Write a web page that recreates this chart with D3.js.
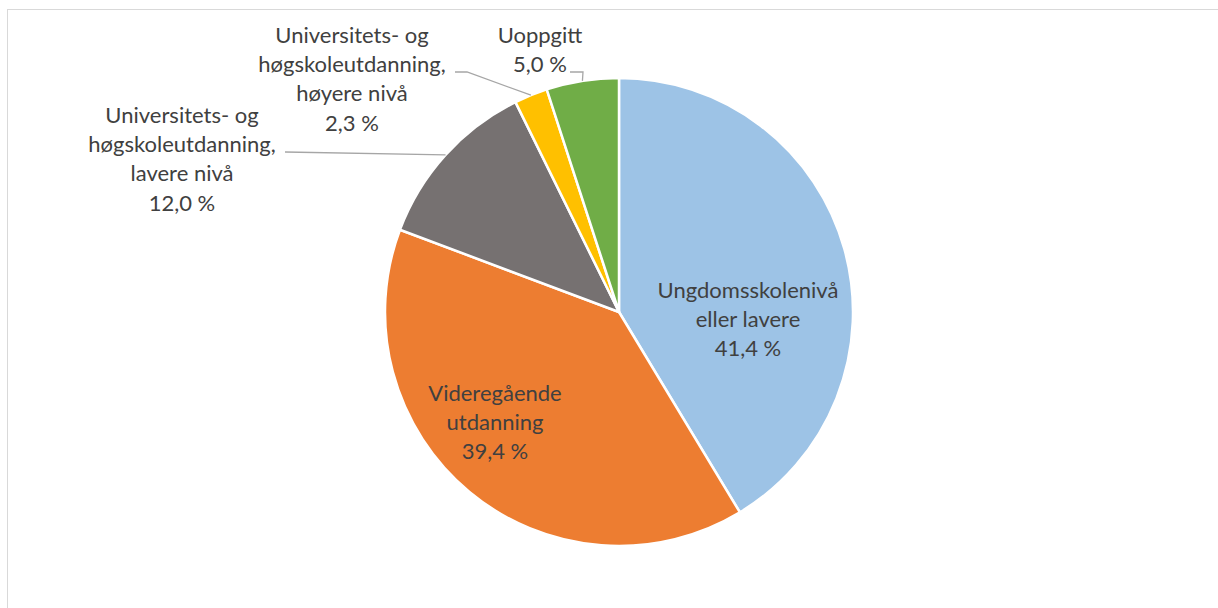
<!DOCTYPE html>
<html>
<head>
<meta charset="utf-8">
<script src="https://cdn.jsdelivr.net/npm/d3@7"></script>
<style>
  body { margin: 0; background: #fff; }
  text { font-family: Lato, "Open Sans", sans-serif; fill: #404040; }
</style>
</head>
<body>
<div id="chart"></div>
<script>
// data
let categories = [
  ['Ungdomsskolenivå', 'eller lavere'],
  ['Videregående', 'utdanning'],
  ['Universitets- og', 'høgskoleutdanning,', 'lavere nivå'],
  ['Universitets- og', 'høgskoleutdanning,', 'høyere nivå'],
  ['Uoppgitt']
];
let values = [41.4, 39.4, 12.0, 2.3, 5.0];
let colors = ['#9DC3E6', '#ED7D31', '#767171', '#FFC000', '#70AD47'];

let width = 1218;
let height = 608;
let cx = 619, cy = 312, radius = 234;

// label layout (center x, first baseline y) and leader line kinks
let labelPos = [
  { x: 748, y: 298 },
  { x: 495, y: 401 },
  { x: 182, y: 123, line: [285, 152] },
  { x: 352, y: 43, line: [455, 72, 467, 72] },
  { x: 540, y: 43, line: [570, 72, 583, 72] }
];

let svg = d3.select('#chart')
  .append('svg')
  .attr('width', width)
  .attr('height', height);

svg.append('rect')
  .attr('x', 7.5)
  .attr('y', 9.5)
  .attr('width', width)
  .attr('height', height)
  .style('fill', 'none')
  .style('stroke', '#d9d9d9');

let pie = d3.pie().sort(null).value(d => d);
let arcs = pie(values);
let arc = d3.arc().innerRadius(0).outerRadius(radius);

let g = svg.append('g').attr('transform', `translate(${cx},${cy})`);

g.selectAll('path')
  .data(arcs)
  .enter()
  .append('path')
  .attr('d', arc)
  .style('fill', (d, i) => colors[i])
  .style('stroke', '#fff')
  .style('stroke-width', 2.5)
  .style('stroke-linejoin', 'round');

let fmt = v => d3.format('.1f')(v).replace('.', ',') + ' %';

// leader lines
arcs.forEach((d, i) => {
  let p = labelPos[i];
  if (!p.line) return;
  let a = (d.startAngle + d.endAngle) / 2;
  let ex = cx + radius * Math.sin(a);
  let ey = cy - radius * Math.cos(a);
  let pts = [];
  for (let k = 0; k < p.line.length; k += 2) pts.push([p.line[k], p.line[k + 1]]);
  pts.push([ex, ey]);
  svg.append('path')
    .attr('d', d3.line()(pts))
    .style('fill', 'none')
    .style('stroke', '#a6a6a6')
    .style('stroke-width', 1.3);
});

// labels
arcs.forEach((d, i) => {
  let p = labelPos[i];
  let lines = categories[i].concat([fmt(values[i])]);
  let t = svg.append('text')
    .attr('text-anchor', 'middle')
    .attr('font-size', '22px');
  lines.forEach((l, k) => {
    t.append('tspan')
      .attr('x', p.x)
      .attr('y', p.y + k * 29.2)
      .text(l);
  });
});
</script>
</body>
</html>
